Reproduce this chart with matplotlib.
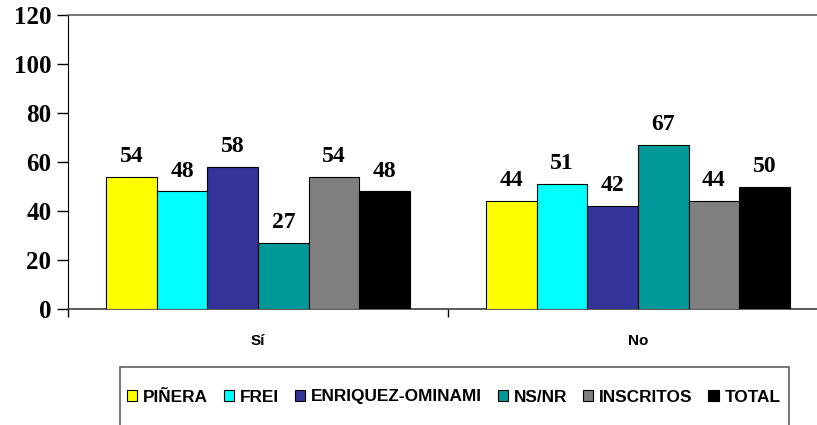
import matplotlib
matplotlib.use("Agg")
import matplotlib.pyplot as plt
import matplotlib.patches as mpatches
import numpy as np

categories = ["Sí", "No"]
series = ["PIÑERA", "FREI", "ENRIQUEZ-OMINAMI", "NS/NR", "INSCRITOS", "TOTAL"]
values = {
    "PIÑERA": [54, 44],
    "FREI": [48, 51],
    "ENRIQUEZ-OMINAMI": [58, 42],
    "NS/NR": [27, 67],
    "INSCRITOS": [54, 44],
    "TOTAL": [48, 50],
}
colors = ["#FFFF00", "#00FFFF", "#333399", "#009999", "#808080", "#000000"]
yticks = [0, 20, 40, 60, 80, 100, 120]

W, H = 817, 425
fig = plt.figure(figsize=(W / 100, H / 100), dpi=100)
ax = fig.add_axes([68 / W, (H - 309) / H, (828 - 68) / W, (309 - 15) / H])

x = np.arange(len(categories))
n = len(series)
bw = 0.8 / n
handles = []
for i, (s, c) in enumerate(zip(series, colors)):
    pos = x - 0.4 + bw * (i + 0.5)
    bars = ax.bar(pos, values[s], width=bw, color=c, edgecolor="black", linewidth=0.8, zorder=3)
    for b, v in zip(bars, values[s]):
        ax.annotate(str(v), (b.get_x() + b.get_width() / 2, v), xytext=(0, 7),
                    textcoords="offset points", ha="center", va="bottom",
                    fontsize=17, fontweight="bold", family="Liberation Serif")
    handles.append(mpatches.Patch(facecolor=c, edgecolor="black", linewidth=0.8, label=s))

ax.set_xlim(-0.5, len(categories) - 0.5)
ax.set_ylim(0, 120)
ax.set_yticks(yticks)
ax.set_yticklabels([str(t) for t in yticks], fontsize=18, fontweight="bold", family="Liberation Serif")
ax.tick_params(axis="y", direction="out", length=8, width=1, pad=4)

ax.set_xticks(np.arange(len(categories) + 1) - 0.5)
ax.set_xticklabels([])
ax.tick_params(axis="x", which="major", direction="out", length=6, width=1)
ax.set_xticks(x, minor=True)
ax.set_xticklabels(categories, minor=True, fontsize=11, fontweight="bold", family="Liberation Sans")
ax.tick_params(axis="x", which="minor", length=0, pad=18)

ax.spines["left"].set_color("black")
ax.spines["bottom"].set_color("#404040")
ax.spines["bottom"].set_linewidth(1.2)
ax.spines["top"].set_color("#606060")
ax.spines["top"].set_linewidth(1.2)
ax.spines["right"].set_visible(False)

leg = fig.legend(handles=handles, loc="center left",
                 bbox_to_anchor=(127 / W, (H - 397) / H), ncol=6, frameon=False,
                 prop={"family": "Liberation Sans", "weight": "bold", "size": 12.4},
                 handlelength=0.6, handleheight=0.6, handletextpad=0.35,
                 columnspacing=0.9, borderpad=0, borderaxespad=0)

rect = mpatches.Rectangle((120 / W, -0.2), (789 - 120) / W, (H - 367) / H + 0.2,
                          transform=fig.transFigure, fill=False, edgecolor="#606060",
                          linewidth=1.2)
fig.patches.append(rect)

fig.savefig("out.png", dpi=100)
